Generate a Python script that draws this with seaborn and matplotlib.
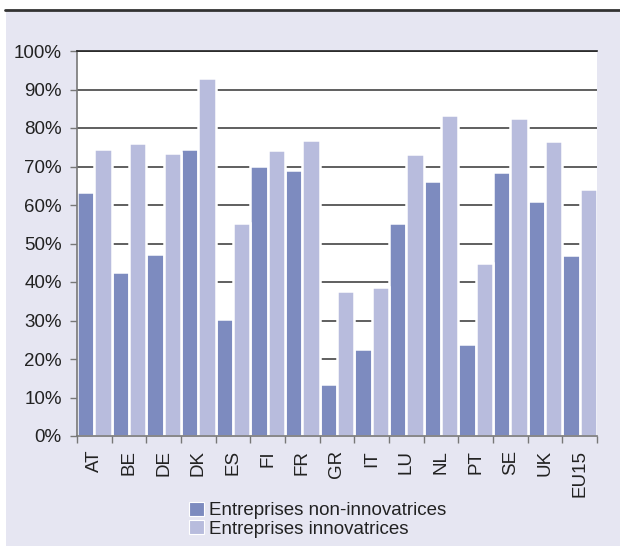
import numpy as np
import pandas as pd
import matplotlib
matplotlib.use("Agg")
import matplotlib.pyplot as plt
from matplotlib.patches import Rectangle
from matplotlib.lines import Line2D
import seaborn as sns

# data (share of enterprises, %)
countries = ['AT', 'BE', 'DE', 'DK', 'ES', 'FI', 'FR', 'GR', 'IT', 'LU', 'NL', 'PT', 'SE', 'UK', 'EU15']
non_innov = [63.3, 42.5, 47.4, 74.5, 30.5, 70.2, 69.2, 13.6, 22.5, 55.2, 66.2, 24.0, 68.6, 61.0, 47.1]
innov = [74.5, 76.0, 73.5, 93.0, 55.4, 74.2, 77.0, 37.7, 38.8, 73.2, 83.5, 44.9, 82.7, 76.5, 64.2]
series_names = ['Entreprises non-innovatrices', 'Entreprises innovatrices']
yticks = list(range(0, 101, 10))

df = pd.DataFrame({
    'pays': countries * 2,
    'valeur': non_innov + innov,
    'serie': [series_names[0]] * len(countries) + [series_names[1]] * len(countries),
})

sns.set_style('white')
plt.rcParams['font.family'] = ['Liberation Sans', 'DejaVu Sans']

bg = '#e6e6f2'
fig = plt.figure(figsize=(6.2, 5.48), dpi=100, facecolor='white')
# lavender panel + dark rule at the top
fig.add_artist(Rectangle((6 / 620, 2 / 548), 1, 1 - 13 / 548, transform=fig.transFigure,
                         facecolor=bg, edgecolor='none', zorder=-10))
fig.add_artist(Line2D([5 / 620, 1], [1 - 10 / 548, 1 - 10 / 548], transform=fig.transFigure,
                      color='#333333', linewidth=2))

ax = fig.add_axes([77 / 620, 1 - 436 / 548, 520 / 620, 385 / 548])
# white edges make the small gaps between bars (hiding the gridlines there)
sns.barplot(data=df, x='pays', y='valeur', hue='serie', order=countries,
            palette=['#7d8bbf', '#b8bcdd'], width=1.0, gap=0,
            edgecolor='white', linewidth=1.8, saturation=1, ax=ax)

ax.set_ylim(0, 100)
ax.set_yticks(yticks)
ax.set_yticklabels([f'{t}%' for t in yticks])
ax.set_xlabel('')
ax.set_ylabel('')

# gridlines behind the bars
ax.set_axisbelow(True)
ax.yaxis.grid(True, color='#444444', linewidth=1.2)

# spines
for s in ['left', 'bottom']:
    ax.spines[s].set_color('#777777')
    ax.spines[s].set_linewidth(1.2)
ax.spines['top'].set_color('#222222')
ax.spines['top'].set_linewidth(1.2)
ax.spines['right'].set_visible(False)

# ticks: y outside, x at the group boundaries
ax.tick_params(axis='y', which='major', length=5, width=1, color='#777777', pad=6,
               labelsize=13.5, labelcolor='#222222', left=True)
ax.set_xticks(np.arange(-0.5, len(countries)), minor=True)
ax.tick_params(axis='x', which='minor', length=5, width=1, color='#777777', bottom=True)
ax.tick_params(axis='x', which='major', length=0, pad=10, labelsize=13.5, labelcolor='#222222',
               labelrotation=90)

# legend at the bottom
ax.get_legend().remove()
handles, labels = ax.get_legend_handles_labels()
for h in handles:
    h.set_edgecolor('white')
    h.set_linewidth(0.8)
fig.legend(handles, labels, loc='upper left', bbox_to_anchor=(181 / 620, 1 - 494 / 548),
           frameon=False, fontsize=13.5, handlelength=0.8, handleheight=0.8,
           handletextpad=0.3, labelspacing=0.05, borderaxespad=0, labelcolor='#222222')

fig.savefig('out.png', dpi=100, facecolor='white')
